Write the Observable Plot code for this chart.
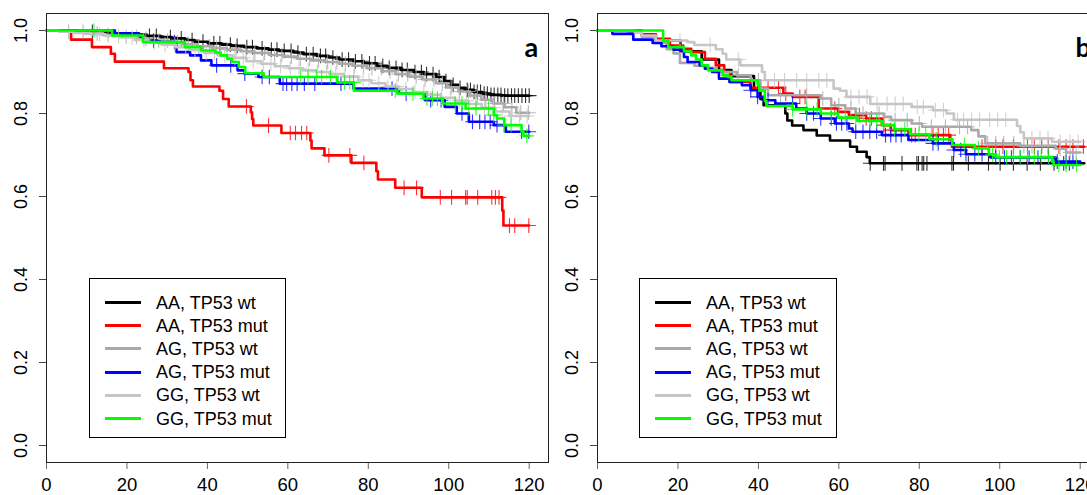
<!DOCTYPE html>
<html><head><meta charset="utf-8">
<script src="https://cdn.jsdelivr.net/npm/d3@7"></script>
<script src="https://cdn.jsdelivr.net/npm/@observablehq/plot@0.6"></script>
<style>
html,body{margin:0;padding:0;background:#fff;overflow:hidden;width:1087px;height:495px}
#wrap{position:relative;width:1110px;height:495px}
.panel{position:absolute;top:0;width:550px;height:495px}
.legend{position:absolute;border:1px solid #000;background:#fff;font-family:"Liberation Sans",Arial,sans-serif;font-size:18px;color:#000;box-sizing:border-box}
.sw{position:absolute;height:3px}
.lt{position:absolute;white-space:nowrap;line-height:20px}
</style>
</head><body><div id="wrap"></div>
<script>
const groups = ["AA, TP53 wt", "AA, TP53 mut", "AG, TP53 wt", "AG, TP53 mut", "GG, TP53 wt", "GG, TP53 mut"];
const colors = ["#000000", "#ff0000", "#a9a9a9", "#0000ff", "#c6c6c6", "#00ff00"];
const panelLabels = ["a", "b"];
const xTicks = [0, 20, 40, 60, 80, 100, 120];
const yTicks = [0, 0.2, 0.4, 0.6, 0.8, 1.0];
const yTickLabels = ["0.0", "0.2", "0.4", "0.6", "0.8", "1.0"];

// ---------- Panel a ----------
const aTime_AAwt = [0, 7.5, 12.8, 17.2, 20.6, 24.9, 28.3, 31.1, 34.4, 36.8, 40.2, 43.5, 45.9, 49.1, 52.3, 55.2, 57.8, 61.4, 63.9, 67.2, 70.1, 72.8, 76.3, 78.9, 82.2, 84.7, 88.1, 91.3, 93.8, 96.9, 98.9, 100.6, 102.3, 104.1, 106.2, 108.3, 110.4, 113.1, 120];
const aSurv_AAwt = [1, 0.997, 0.994, 0.992, 0.99, 0.987, 0.984, 0.981, 0.977, 0.973, 0.969, 0.966, 0.963, 0.96, 0.957, 0.954, 0.951, 0.947, 0.943, 0.939, 0.935, 0.93, 0.926, 0.921, 0.915, 0.91, 0.905, 0.9, 0.895, 0.888, 0.878, 0.869, 0.862, 0.857, 0.852, 0.848, 0.845, 0.843, 0.843];
const aCens_AAwt = [11.4, 25.6, 27.3, 30.8, 33.5, 36.2, 38.9, 41.6, 43.1, 45.7, 47.4, 49.8, 51.2, 53.6, 55.9, 57.3, 59.1, 60.8, 62.5, 64.6, 66.3, 68.1, 69.4, 71.2, 73.5, 75.1, 76.8, 78.4, 80.3, 81.7, 83.6, 85.2, 86.9, 88.4, 89.7, 91.6, 93.2, 94.5, 96.1, 97.6, 99.3, 101.1, 102.8, 104.6, 105.4, 106.3, 107.1, 107.9, 108.8, 109.6, 110.5, 111.3, 112.2, 113, 113.9, 114.7, 115.6, 116.4, 117.3, 118.2, 119.1, 120];

const aTime_AAmut = [0, 6.1, 11.3, 16, 17, 29.2, 35.3, 35.8, 36.4, 43, 43.9, 45.3, 50.8, 51.1, 51.4, 58.4, 65.6, 65.9, 69.1, 75.8, 82, 82.4, 86.7, 93.3, 113.3, 113.6, 120];
const aSurv_AAmut = [1, 0.978, 0.96, 0.944, 0.925, 0.909, 0.9, 0.88, 0.865, 0.855, 0.835, 0.817, 0.803, 0.787, 0.771, 0.753, 0.735, 0.716, 0.699, 0.681, 0.661, 0.641, 0.621, 0.598, 0.566, 0.53, 0.53];
const aCens_AAmut = [49.7, 55.2, 60.6, 61.9, 63.4, 64.7, 70.2, 75.4, 78.9, 88.9, 92, 97.9, 100.7, 104.2, 104.6, 107.2, 110.7, 111.6, 112.5, 115.1, 116.4, 119.9];

const aTime_AGwt = [0, 4.2, 9.5, 14.1, 18.3, 22.6, 26.4, 30.2, 33.9, 37.5, 41.1, 44.8, 48.3, 51.6, 55.4, 58.9, 62.3, 65.8, 69.2, 72.7, 76.1, 79.6, 83.3, 86.8, 90.2, 93.5, 96.8, 99.6, 102.4, 105.3, 108.1, 111, 113.9, 116.8, 120];
const aSurv_AGwt = [1, 0.997, 0.993, 0.989, 0.985, 0.98, 0.976, 0.972, 0.967, 0.962, 0.958, 0.954, 0.95, 0.946, 0.941, 0.937, 0.932, 0.928, 0.924, 0.92, 0.915, 0.909, 0.902, 0.895, 0.889, 0.882, 0.873, 0.863, 0.853, 0.843, 0.833, 0.824, 0.815, 0.802, 0.802];
const aCens_AGwt = [5.5, 9.1, 12.6, 15.3, 19.8, 22.4, 24.7, 27.9, 30.1, 32.6, 35.2, 37.8, 40.5, 42.3, 44.9, 47.1, 49.6, 51.8, 54.2, 56.7, 58.5, 60.9, 63.1, 65.4, 67.6, 69.9, 72.2, 74.3, 76.6, 78.8, 80.9, 83.2, 85.4, 87.5, 89.8, 91.9, 94.1, 96.3, 98.4, 100.6, 102.7, 104.9, 107.1, 109.2, 111.4, 113.6, 115.7, 117.9, 119.8];

const aTime_AGmut = [0, 17, 23, 24, 27.5, 32.3, 35.7, 38.4, 41, 47.5, 49.3, 52.7, 58, 76.3, 87.6, 94.2, 99, 102, 105, 111.2, 114.2, 120];
const aSurv_AGmut = [1, 0.993, 0.985, 0.976, 0.972, 0.948, 0.94, 0.928, 0.916, 0.904, 0.896, 0.888, 0.872, 0.86, 0.848, 0.832, 0.816, 0.8, 0.78, 0.772, 0.756, 0.756];
const aCens_AGmut = [26.6, 31.8, 42.3, 45.8, 49.3, 53.6, 55.4, 58.8, 59.7, 61, 62.3, 64.1, 66.7, 73.2, 85.9, 89.4, 95.5, 98.1, 103.3, 105.9, 107.7, 109, 110.3, 112, 113.8, 118.1, 119.9];

const aTime_GGwt = [0, 3.1, 6.8, 10.9, 14.7, 18.2, 21.9, 25.3, 28.6, 32.1, 35.7, 39.2, 42.6, 46.3, 49.7, 53.4, 56.8, 60.2, 63.7, 67.1, 70.4, 73.9, 77.5, 80.8, 84.3, 87.7, 91.1, 94.6, 98.1, 101.5, 104.8, 108.2, 111.6, 115.1, 120];
const aSurv_GGwt = [1, 0.997, 0.994, 0.991, 0.987, 0.983, 0.977, 0.971, 0.966, 0.96, 0.953, 0.946, 0.94, 0.934, 0.926, 0.92, 0.914, 0.909, 0.904, 0.9, 0.895, 0.889, 0.88, 0.873, 0.865, 0.859, 0.852, 0.845, 0.838, 0.831, 0.823, 0.814, 0.805, 0.794, 0.794];
const aCens_GGwt = [13.2, 17.9, 21.3, 24.2, 26.8, 29.5, 31.9, 34.6, 36.9, 39.7, 41.8, 44.3, 46.8, 48.9, 51.4, 53.9, 55.8, 58.2, 60.6, 62.8, 65.1, 67.4, 69.6, 71.9, 74.2, 76.4, 78.7, 80.2, 82.6, 84.9, 87.1, 89.3, 91.6, 93.8, 96, 98.2, 100.4, 102.6, 104.4, 106.7, 108.9, 111.1, 113.3, 115.5, 117.6, 119.5];

const aTime_GGmut = [0, 16.3, 24, 34.4, 38.4, 42, 43.3, 44.9, 46.1, 47.8, 49.4, 54, 72.3, 76.4, 87.2, 93.7, 98.5, 104.2, 111.2, 112, 113.8, 118.1, 118.6, 120];
const aSurv_GGmut = [1, 0.988, 0.972, 0.96, 0.952, 0.947, 0.94, 0.932, 0.924, 0.912, 0.897, 0.888, 0.875, 0.855, 0.848, 0.836, 0.824, 0.812, 0.796, 0.788, 0.772, 0.756, 0.746, 0.746];
const aCens_GGmut = [11.8, 63.2, 65, 67.1, 68.4, 70.6, 74.1, 75.4, 76.3, 86.7, 91.1, 94.6, 95.9, 97.2, 101.6, 103.3, 105, 106.8, 109.9, 111.2, 113.8, 115.5, 119.4];

// ---------- Panel b ----------
const bTime_AAwt = [0, 11, 14.5, 20.6, 25.9, 30.2, 33.3, 38.9, 40.5, 41.3, 46.7, 47.2, 48.4, 51.2, 54.5, 57.8, 62.8, 64.5, 66.9, 67.7, 121];
const bSurv_AAwt = [1, 0.99, 0.976, 0.95, 0.93, 0.905, 0.89, 0.86, 0.835, 0.82, 0.8, 0.783, 0.771, 0.76, 0.747, 0.735, 0.72, 0.708, 0.695, 0.68, 0.68];
const bCens_AAwt = [67.8, 71.1, 71.5, 75.7, 79.4, 79.8, 80.7, 81.1, 81.9, 88.1, 88.5, 92.2, 97.2, 100.1, 103.4, 106.8, 110.1, 113.5, 115.9, 117.3];

const bTime_AAmut = [0, 9.3, 11, 14.5, 18, 21.3, 23.3, 26.7, 29.4, 31.5, 33, 38, 46.2, 48.5, 55, 59.8, 62.5, 66.8, 70.7, 72.9, 77.3, 87.7, 88.1, 121];
const bSurv_AAmut = [1, 0.995, 0.99, 0.98, 0.964, 0.956, 0.948, 0.932, 0.916, 0.9, 0.876, 0.862, 0.848, 0.84, 0.812, 0.804, 0.796, 0.788, 0.772, 0.76, 0.748, 0.736, 0.72, 0.72];
const bCens_AAmut = [39.8, 42.4, 45, 46.8, 50.3, 51.6, 59, 65.1, 66.8, 68.1, 71.2, 72.9, 78.1, 79, 83.4, 84.7, 86, 87.3, 95.6, 99, 100.8, 103.4, 106.9, 108.6, 110.4, 112.1, 114.7, 116.5, 118.2, 120.8];

const bTime_AGwt = [0, 7.6, 11, 14.5, 17.2, 18.9, 20.5, 24.1, 27, 29.4, 34.6, 38.1, 40.5, 42.4, 55.5, 58.1, 61.6, 64.2, 71.2, 73, 78.1, 80.7, 92.9, 94.7, 96.4, 105.1, 113.9, 116.5, 120];
const bSurv_AGwt = [1, 0.995, 0.985, 0.97, 0.955, 0.945, 0.922, 0.915, 0.91, 0.9, 0.892, 0.88, 0.86, 0.844, 0.836, 0.82, 0.812, 0.8, 0.792, 0.784, 0.776, 0.768, 0.76, 0.745, 0.728, 0.722, 0.715, 0.706, 0.706];
const bCens_AGwt = [35, 40, 45.5, 52, 56, 60, 63, 66, 70, 74, 77, 80, 83, 86.5, 90, 92, 97, 99, 101, 103.5, 106, 108, 110.5, 112, 115, 117.5, 119];

const bTime_AGmut = [0, 3.7, 8.9, 13.7, 15.9, 18.9, 21.5, 22.4, 25.4, 26.7, 28.5, 30.2, 32.8, 35.9, 38.1, 39.8, 41.6, 44.2, 49.4, 52, 55.5, 59, 62.5, 63.4, 70.7, 77.3, 83.4, 88.6, 91.6, 97.7, 113.9, 120];
const bSurv_AGmut = [1, 0.992, 0.978, 0.97, 0.962, 0.954, 0.936, 0.924, 0.916, 0.908, 0.9, 0.884, 0.876, 0.868, 0.856, 0.84, 0.832, 0.824, 0.812, 0.8, 0.788, 0.776, 0.764, 0.756, 0.748, 0.736, 0.728, 0.712, 0.702, 0.694, 0.684, 0.684];
const bCens_AGmut = [38.1, 39.8, 42.4, 48.5, 52, 53.7, 55.5, 58.1, 59.4, 60.7, 62, 64.2, 66, 67.7, 69.4, 71.6, 72.9, 74.2, 75.5, 83.4, 84.7, 88.6, 90.3, 91.6, 93.8, 95.6, 99, 101.2, 102.9, 105.1, 107.3, 109.5, 112.1, 114.3, 116.5, 118.2];

const bTime_GGwt = [0, 9.3, 11, 14.5, 22.4, 24.1, 29.4, 31.1, 32, 35.5, 40.9, 41.6, 58.7, 60.3, 61.9, 67.8, 78.1, 83.4, 86.8, 88.6, 104.3, 105.1, 106, 113, 120];
const bSurv_GGwt = [1, 0.995, 0.988, 0.976, 0.972, 0.965, 0.955, 0.944, 0.93, 0.916, 0.9, 0.88, 0.86, 0.855, 0.84, 0.823, 0.816, 0.808, 0.8, 0.785, 0.77, 0.755, 0.74, 0.732, 0.732];
const bCens_GGwt = [20.5, 28, 35, 44, 46.5, 49.5, 52, 55, 57, 63, 65, 67, 69.5, 72, 74, 76, 79.5, 81, 84, 86, 89.5, 91, 93, 95, 97.5, 99.5, 101.5, 108, 110, 112, 115, 117.5, 119.5];

const bTime_GGmut = [0, 16.3, 17.6, 21.5, 23.3, 24.5, 25.9, 27.5, 31.1, 32.5, 33.3, 39.8, 40.2, 41.6, 42, 48.5, 55.5, 59.8, 64.6, 70.7, 73.8, 77.7, 82.5, 88.2, 93.8, 97.3, 99, 113, 113.4, 120];
const bSurv_GGmut = [1, 0.975, 0.96, 0.95, 0.94, 0.93, 0.916, 0.904, 0.892, 0.888, 0.88, 0.87, 0.855, 0.83, 0.818, 0.81, 0.8, 0.79, 0.782, 0.772, 0.762, 0.75, 0.738, 0.724, 0.716, 0.702, 0.695, 0.684, 0.676, 0.676];
const bCens_GGmut = [48.5, 52, 54.6, 58.1, 61.6, 64.2, 67.7, 69.4, 73.8, 76.4, 79.9, 81.6, 84.2, 91.2, 94.7, 98.2, 99.9, 101.7, 103.4, 105.1, 106.9, 108.6, 110.3, 112.1, 114.7, 116.5, 119.1];

const panels = [
  [[aTime_AAwt, aSurv_AAwt, aCens_AAwt], [aTime_AAmut, aSurv_AAmut, aCens_AAmut], [aTime_AGwt, aSurv_AGwt, aCens_AGwt],
   [aTime_AGmut, aSurv_AGmut, aCens_AGmut], [aTime_GGwt, aSurv_GGwt, aCens_GGwt], [aTime_GGmut, aSurv_GGmut, aCens_GGmut]],
  [[bTime_AAwt, bSurv_AAwt, bCens_AAwt], [bTime_AAmut, bSurv_AAmut, bCens_AAmut], [bTime_AGwt, bSurv_AGwt, bCens_AGwt],
   [bTime_AGmut, bSurv_AGmut, bCens_AGmut], [bTime_GGwt, bSurv_GGwt, bCens_GGwt], [bTime_GGmut, bSurv_GGmut, bCens_GGmut]]
];

function stepAt(ts, ss, t) {
  const i = d3.bisectRight(ts, t) - 1;
  return ss[Math.max(0, Math.min(i, ss.length - 1))];
}

const wrap = document.getElementById("wrap");
const FONT = '"Liberation Sans", Arial, sans-serif';

panels.forEach((curves, p) => {
  const marks = [];
  curves.forEach(([ts, ss, cs], g) => {
    const pts = ts.map((t, i) => ({t, s: ss[i]}));
    const cens = cs.map(t => ({t, s: stepAt(ts, ss, t)}));
    marks.push(Plot.line(pts, {x: "t", y: "s", curve: "step-after", stroke: colors[g], strokeWidth: 2.6}));
    marks.push(Plot.dot(cens, {x: "t", y: "s", symbol: "plus", r: 4.8, stroke: colors[g], strokeWidth: 1.1, strokeOpacity: 0.8}));
  });
  const chart = Plot.plot({
    width: 550, height: 495,
    marginLeft: 46, marginRight: 2, marginTop: 13, marginBottom: 33,
    style: {fontFamily: FONT, background: "transparent", color: "#000", overflow: "visible"},
    x: {domain: [0, 124.8]},
    y: {domain: [-0.041, 1.041]},
    marks: [
      Plot.axisX({ticks: xTicks, tickSize: 7, tickPadding: 8, fontSize: 18.5, label: null, stroke: "#666"}),
      Plot.axisY({ticks: yTicks, tickSize: 7, tickFormat: () => "", label: null, stroke: "#444"}),
      Plot.text(yTicks, {y: d => d, text: (d, i) => yTickLabels[i], frameAnchor: "left", dx: -25, rotate: -90, textAnchor: "middle", fontSize: 18, fill: "#000"}),
      ...marks,
      Plot.frame({stroke: "#222"}),
      Plot.text([panelLabels[p]], {text: d => d, frameAnchor: "top-right", dx: -24, dy: 24, textAnchor: "start", fontSize: 27, fontWeight: "bold", fontFamily: "Lato, " + FONT, fill: "#000"})
    ]
  });
  const div = document.createElement("div");
  div.className = "panel";
  div.style.left = (p * 551) + "px";
  div.appendChild(chart);
  const lg = document.createElement("div");
  lg.className = "legend";
  lg.style.left = (p === 0 ? 89 : 88) + "px";
  lg.style.top = "278px";
  lg.style.width = (p === 0 ? 197 : 198) + "px";
  lg.style.height = "160px";
  groups.forEach((name, g) => {
    const cy = 23.5 + g * 23.2;
    const sw = document.createElement("div");
    sw.className = "sw";
    sw.style.left = "15px"; sw.style.width = "36px";
    sw.style.top = (cy - 1.5) + "px";
    sw.style.background = colors[g];
    const tx = document.createElement("div");
    tx.className = "lt";
    tx.style.left = "66px";
    tx.style.top = (cy - 10) + "px";
    tx.textContent = name;
    lg.appendChild(sw); lg.appendChild(tx);
  });
  div.appendChild(lg);
  wrap.appendChild(div);
});
</script>
</body></html>
